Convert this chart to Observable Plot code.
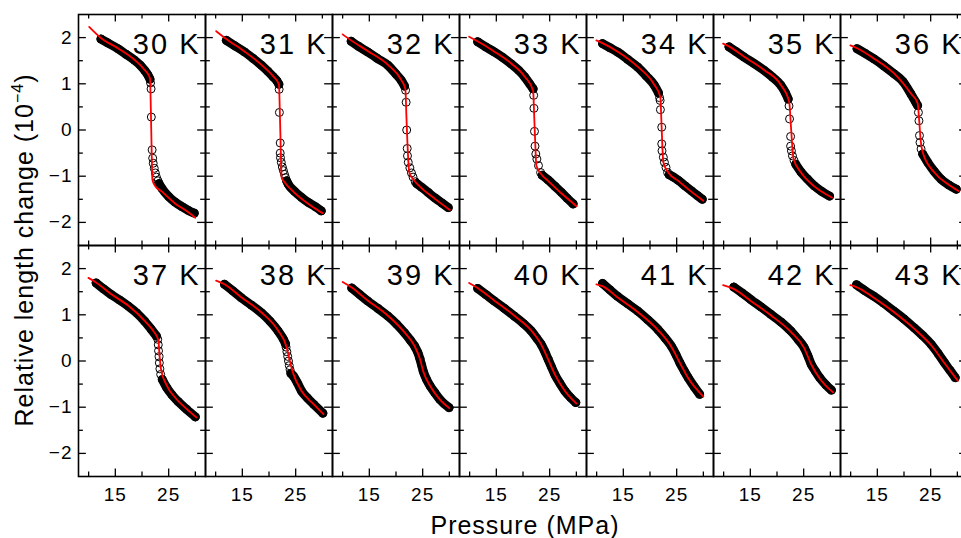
<!DOCTYPE html>
<html><head><meta charset="utf-8">
<script src="https://cdn.jsdelivr.net/npm/d3@7"></script>
<script src="https://cdn.jsdelivr.net/npm/@observablehq/plot@0.6"></script>
<style>
html,body{margin:0;padding:0;overflow:hidden;background:#fff;}
#chart{position:relative;width:961px;height:538px;overflow:hidden;}
#chart svg{max-width:none !important;}
</style></head><body><div id="chart"></div>
<script>
// Temperatures of the 14 panels (K)
const temps = [30, 31, 32, 33, 34, 35, 36, 37, 38, 39, 40, 41, 42, 43];

// Measured points (pressure MPa, relative length change 1e-4), dense branch before the jump
const upperBands = [
  [[12.3,1.97],[13.5,1.89],[15.5,1.76],[17.0,1.64],[18.6,1.51],[19.7,1.40],[20.5,1.29],[21.1,1.19],[21.5,1.10]],
  [[12.0,1.94],[13.5,1.83],[15.4,1.69],[17.0,1.55],[18.6,1.40],[19.8,1.27],[20.8,1.15],[21.5,1.06],[21.85,0.99]],
  [[11.6,1.92],[13.0,1.81],[14.7,1.69],[16.5,1.55],[18.5,1.40],[20.0,1.21],[21.0,1.07],[21.6,0.95]],
  [[11.5,1.91],[13.0,1.80],[14.6,1.69],[16.2,1.57],[17.8,1.43],[19.2,1.29],[20.3,1.15],[21.3,0.99],[21.9,0.89]],
  [[11.1,1.87],[12.5,1.78],[13.9,1.69],[15.8,1.53],[17.7,1.36],[19.3,1.17],[20.8,0.97],[21.6,0.80]],
  [[11.0,1.80],[12.3,1.70],[13.8,1.58],[15.7,1.44],[17.6,1.29],[19.2,1.14],[20.7,0.97],[21.6,0.80],[22.1,0.67]],
  [[11.2,1.76],[12.7,1.66],[14.35,1.54],[16.2,1.39],[18.1,1.22],[19.8,1.05],[21.3,0.78],[22.2,0.60],[22.55,0.53]],
  [[11.4,1.69],[12.8,1.56],[14.2,1.44],[15.8,1.32],[17.4,1.19],[19.0,1.04],[20.5,0.86],[21.7,0.69],[22.7,0.54]],
  [[11.65,1.66],[13.2,1.52],[14.8,1.37],[16.7,1.21],[18.6,1.04],[20.2,0.86],[21.7,0.65],[22.7,0.47],[23.1,0.37]],
  [[11.7,1.58],[13.2,1.44],[14.7,1.30],[16.6,1.14],[18.5,0.97],[20.1,0.80],[21.6,0.61],[22.7,0.45],[23.5,0.32],[24.1,0.18],[24.5,0.04],[24.8,-0.09],[25.1,-0.22],[25.7,-0.39],[26.4,-0.54],[27.3,-0.69],[28.2,-0.83],[29.95,-1.01]],
  [[11.5,1.57],[13.0,1.44],[14.6,1.30],[16.5,1.14],[18.4,0.97],[20.1,0.81],[21.55,0.65],[22.6,0.49],[23.4,0.36],[24.1,0.20],[24.7,0.04],[25.3,-0.12],[25.96,-0.29],[26.9,-0.48],[27.85,-0.65],[28.9,-0.79],[29.9,-0.90]],
  [[11.1,1.68],[12.5,1.54],[13.9,1.40],[15.8,1.24],[17.7,1.08],[19.6,0.89],[21.5,0.68],[22.9,0.49],[24.0,0.32],[24.9,0.13],[25.6,-0.04],[26.4,-0.21],[27.15,-0.36],[28.3,-0.56],[29.3,-0.72]],
  [[11.9,1.60],[13.5,1.47],[15.1,1.33],[17.0,1.17],[18.85,1.01],[20.8,0.84],[22.6,0.65],[24.0,0.46],[25.1,0.29],[25.8,0.11],[26.4,-0.07],[27.2,-0.22],[28.0,-0.36],[29.2,-0.52],[30.2,-0.63]],
  [[11.1,1.65],[12.7,1.52],[14.35,1.40],[16.2,1.25],[18.1,1.08],[20.0,0.91],[21.9,0.72],[23.5,0.55],[25.1,0.36],[26.4,0.16],[27.6,-0.04],[28.6,-0.20],[29.6,-0.36]]
];

// Sparse measured points across the jump
const transitionDots = [
  [[21.6,1.02],[21.7,0.89],[21.75,0.28],[21.9,-0.43],[22.0,-0.61],[22.1,-0.72],[22.3,-0.83],[22.5,-0.93],[22.7,-1.02],[23.0,-1.10]],
  [[21.9,0.88],[21.95,0.38],[22.1,-0.28],[22.1,-0.50],[22.15,-0.60],[22.3,-0.70],[22.5,-0.80],[22.7,-0.88],[22.9,-0.96],[23.1,-1.03]],
  [[21.8,0.86],[21.9,0.60],[22.0,0.0],[22.1,-0.40],[22.15,-0.56],[22.3,-0.70],[22.6,-0.82],[22.9,-0.93],[23.2,-1.02],[23.6,-1.12]],
  [[22.0,0.75],[22.05,0.47],[22.15,-0.03],[22.25,-0.35],[22.4,-0.52],[22.6,-0.63],[22.9,-0.77],[23.3,-0.92]],
  [[21.8,0.70],[21.9,0.64],[21.95,0.44],[22.2,0.06],[22.2,-0.30],[22.25,-0.45],[22.5,-0.59],[22.7,-0.70],[23.0,-0.81],[23.3,-0.92]],
  [[22.25,0.52],[22.35,0.24],[22.55,-0.14],[22.55,-0.35],[22.7,-0.45],[22.9,-0.56],[23.2,-0.66]],
  [[22.7,0.38],[22.8,0.20],[22.9,-0.12],[23.0,-0.27],[23.2,-0.41]],
  [[22.95,0.47],[23.05,0.35],[23.1,0.22],[23.2,0.09],[23.25,-0.04],[23.35,-0.17],[23.5,-0.29]],
  [[23.2,0.30],[23.35,0.20],[23.5,0.10],[23.65,0.0],[23.8,-0.10],[23.95,-0.19]],
  [], [], [], [], []
];

// Dense branch after the jump
const lowerBands = [
  [[23.2,-1.16],[23.7,-1.26],[25.0,-1.44],[26.2,-1.56],[27.5,-1.66],[28.7,-1.74],[29.8,-1.80]],
  [[23.3,-1.10],[23.6,-1.17],[24.8,-1.33],[26.1,-1.46],[27.4,-1.57],[28.7,-1.66],[29.8,-1.75]],
  [[23.9,-1.16],[24.8,-1.24],[26.0,-1.35],[27.3,-1.47],[28.6,-1.58],[29.8,-1.68]],
  [[23.6,-0.98],[24.7,-1.08],[26.0,-1.22],[27.2,-1.35],[28.3,-1.48],[29.4,-1.60]],
  [[23.6,-0.97],[24.4,-1.02],[25.3,-1.09],[26.6,-1.21],[27.8,-1.32],[28.9,-1.42],[29.8,-1.50]],
  [[23.5,-0.74],[24.5,-0.91],[25.7,-1.06],[27.0,-1.21],[28.4,-1.33],[29.85,-1.43]],
  [[23.5,-0.52],[24.45,-0.70],[25.7,-0.90],[27.0,-1.07],[28.4,-1.19],[29.8,-1.28]],
  [[23.8,-0.40],[24.6,-0.57],[25.6,-0.73],[26.8,-0.88],[28.4,-1.05],[30.0,-1.21]],
  [[24.1,-0.27],[24.6,-0.33],[25.3,-0.47],[26.1,-0.65],[27.2,-0.80],[28.4,-0.94],[30.1,-1.13]],
  [], [], [], [], []
];

// Fitted curves (red)
const fitCurves = [
  [[10.1,2.23],[12.3,1.99],[15.5,1.77],[18.6,1.52],[20.5,1.30],[21.5,1.12],[21.65,0.5],[21.8,-0.4],[21.95,-1.08],[22.4,-1.2],[23.7,-1.33],[26.2,-1.59],[28.7,-1.78],[30.0,-1.90]],
  [[10.1,2.14],[12.0,1.97],[15.4,1.70],[18.6,1.41],[20.8,1.16],[21.86,0.99],[22.05,0.3],[22.2,-0.4],[22.37,-1.03],[23.0,-1.14],[24.8,-1.36],[27.4,-1.60],[30.05,-1.80]],
  [[10.0,2.07],[11.6,1.94],[14.7,1.71],[18.5,1.41],[21.0,1.08],[21.76,0.89],[21.95,0.3],[22.15,-0.3],[22.5,-0.92],[23.2,-1.06],[24.8,-1.26],[27.3,-1.49],[30.1,-1.73]],
  [[9.9,2.02],[11.5,1.92],[14.6,1.70],[17.8,1.44],[20.3,1.16],[21.9,0.85],[22.1,0.3],[22.3,-0.3],[22.5,-0.77],[23.5,-0.97],[24.7,-1.10],[27.2,-1.37],[30.05,-1.65]],
  [[9.95,1.94],[11.1,1.88],[13.9,1.70],[17.7,1.37],[20.8,0.98],[21.95,0.71],[22.1,0.3],[22.3,-0.3],[22.5,-0.70],[23.5,-0.93],[25.3,-1.10],[27.8,-1.34],[30.0,-1.53]],
  [[9.9,1.87],[11.0,1.81],[13.8,1.59],[17.6,1.30],[20.7,0.98],[22.3,0.60],[22.55,0.2],[22.8,-0.25],[23.1,-0.63],[24.5,-0.92],[27.0,-1.22],[30.3,-1.46]],
  [[9.95,1.83],[11.2,1.77],[14.35,1.55],[18.1,1.23],[21.3,0.79],[22.55,0.58],[22.85,0.2],[23.1,-0.2],[23.5,-0.48],[25.7,-0.92],[28.2,-1.17],[30.2,-1.32]],
  [[9.95,1.80],[11.4,1.70],[14.2,1.45],[17.4,1.20],[20.5,0.87],[22.3,0.62],[23.07,0.45],[23.3,0.1],[23.6,-0.2],[24.6,-0.52],[26.2,-0.79],[28.4,-1.04],[30.2,-1.22]],
  [[10.1,1.74],[11.65,1.66],[14.8,1.38],[18.6,1.05],[21.7,0.66],[23.3,0.30],[23.9,0.0],[24.6,-0.29],[26.1,-0.65],[28.4,-0.94],[30.2,-1.15]],
  [[10.0,1.71],[11.7,1.59],[14.7,1.31],[18.5,0.98],[21.6,0.62],[23.5,0.32],[24.5,0.04],[25.1,-0.22],[26.4,-0.54],[28.2,-0.83],[30.0,-1.02]],
  [[9.9,1.69],[11.5,1.58],[14.6,1.31],[18.4,0.98],[21.55,0.66],[23.4,0.36],[24.7,0.04],[25.96,-0.29],[27.85,-0.65],[30.0,-0.92]],
  [[9.95,1.66],[11.1,1.62],[13.9,1.38],[17.7,1.06],[21.5,0.67],[24.0,0.31],[25.6,-0.04],[27.15,-0.37],[30.0,-0.77]],
  [[9.9,1.64],[11.9,1.56],[15.1,1.30],[18.85,0.99],[22.6,0.63],[25.1,0.28],[26.4,-0.07],[28.0,-0.38],[30.5,-0.68]],
  [[9.95,1.64],[11.1,1.60],[14.35,1.37],[18.1,1.06],[21.9,0.70],[25.1,0.34],[27.6,-0.05],[30.1,-0.43]]
];

// Axis ticks
const xMajor = [15, 25];
const xMinor = [10, 20, 30];
const yMajor = [-2, -1, 0, 1, 2];
const yMinor = [-1.5, -0.5, 0.5, 1.5];

const W = 968, H = 538, mL = 77, mR = 1, mT = 13, mB = 62;
const panelW = (W - mL - mR) / 7, panelH = (H - mT - mB) / 2;

function rows(list, kind) {
  return list.flatMap((pts, i) => pts.map(([p, y]) => ({T: temps[i], col: i % 7, row: Math.floor(i / 7), p, y, kind})));
}
const bandRows = [...rows(upperBands, "u"), ...rows(lowerBands, "l")];
const dotRows = [...rows(upperBands, "u"), ...rows(transitionDots, "t"), ...rows(lowerBands, "l")];
const fitRows = rows(fitCurves, "f");
const labelRows = temps.map((T, i) => ({col: i % 7, row: Math.floor(i / 7), label: `${T} K`}));

const tickStyle = {stroke: "#000", strokeWidth: 1.3};
const fmt = d => (d < 0 ? "\u2212" + (-d) : String(d));

const svg = Plot.plot({
  width: W, height: H,
  marginLeft: mL, marginRight: mR, marginTop: mT, marginBottom: mB,
  style: {fontFamily: "'Liberation Sans', Arial, sans-serif", fontSize: "19px", color: "#000", background: "#fff", overflow: "visible", maxWidth: "none"},
  fx: {domain: d3.range(7), padding: 0, axis: null},
  fy: {domain: [0, 1], padding: 0, axis: null},
  x: {domain: [8.1, 31.9], ticks: xMajor, tickSize: 0, tickPadding: 11, label: null, tickFormat: fmt},
  y: {domain: [-2.5, 2.5], ticks: yMajor, tickSize: 0, tickPadding: 6, label: null, tickFormat: fmt},
  marks: [
    Plot.line(bandRows, {x: "p", y: "y", z: d => d.T + d.kind, fx: "col", fy: "row", stroke: "#000", strokeWidth: 9, strokeLinecap: "round", curve: "monotone-x"}),
    Plot.dot(dotRows, {x: "p", y: "y", fx: "col", fy: "row", r: 4, stroke: "#000", strokeWidth: 1, fill: "none"}),
    Plot.line(fitRows, {x: "p", y: "y", z: "T", fx: "col", fy: "row", stroke: "#ff0000", strokeWidth: 1.8, curve: "monotone-x"}),
    Plot.text(labelRows, {fx: "col", fy: "row", text: "label", frameAnchor: "top-right", textAnchor: "end", lineAnchor: "bottom", dx: -5, dy: 39.5, fontSize: 29, fill: "#000"}),
    Plot.tickX(xMajor, {x: d => d, insetTop: panelH - 8, ...tickStyle}),
    Plot.tickX(xMajor, {x: d => d, insetBottom: panelH - 8, ...tickStyle}),
    Plot.tickX(xMinor, {x: d => d, insetTop: panelH - 5, ...tickStyle}),
    Plot.tickX(xMinor, {x: d => d, insetBottom: panelH - 5, ...tickStyle}),
    Plot.tickY(yMajor, {y: d => d, insetRight: panelW - 8, ...tickStyle}),
    Plot.tickY(yMajor, {y: d => d, insetLeft: panelW - 8, ...tickStyle}),
    Plot.tickY(yMinor, {y: d => d, insetRight: panelW - 5, ...tickStyle}),
    Plot.tickY(yMinor, {y: d => d, insetLeft: panelW - 5, ...tickStyle}),
    Plot.frame({stroke: "#000", strokeWidth: 1.6})
  ]
});

const s = d3.select(svg);
s.style("max-width", "none").style("width", W + "px").style("height", H + "px");
s.selectAll("g[aria-label='x-axis tick label'] text, g[aria-label='y-axis tick label'] text").attr("letter-spacing", "1px");
s.selectAll("g[aria-label='text'] text").attr("letter-spacing", "2px");

// Axis titles
s.append("text")
  .attr("x", 525).attr("y", 534)
  .attr("text-anchor", "middle")
  .attr("font-size", 25).attr("letter-spacing", "1px")
  .attr("fill", "#000")
  .text("Pressure (MPa)");

const yt = s.append("text")
  .attr("transform", "translate(33,250) rotate(-90)")
  .attr("text-anchor", "middle")
  .attr("font-size", 25).attr("letter-spacing", "1px")
  .attr("fill", "#000");
yt.append("tspan").text("Relative length change (10");
yt.append("tspan").attr("font-size", 16).attr("dy", -10).text("\u22124");
yt.append("tspan").attr("dy", 10).text(")");

document.getElementById("chart").appendChild(svg);
</script>
</body></html>
